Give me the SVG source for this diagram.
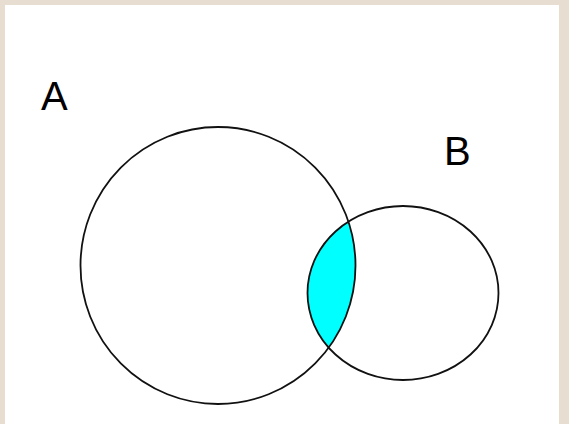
<svg xmlns="http://www.w3.org/2000/svg" width="569" height="424" viewBox="0 0 569 424">
  <style>
    .set { fill: none; stroke: #111; stroke-width: 1.8; }
    .label { font-family: "Liberation Sans", Arial, sans-serif; font-size: 40px; fill: #000; }
  </style>
  <defs>
    <clipPath id="clipA">
      <ellipse cx="218" cy="265.5" rx="137.5" ry="138.5"/>
    </clipPath>
  </defs>
  <rect x="0" y="0" width="569" height="424" fill="#e7ded1"/>
  <rect x="5" y="5" width="554" height="419" fill="#ffffff"/>
  <g id="intersection">
    <ellipse cx="403" cy="293" rx="95.5" ry="87" fill="#00ffff" clip-path="url(#clipA)"/>
  </g>
  <g id="setA">
    <ellipse class="set" cx="218" cy="265.5" rx="137.5" ry="138.5"/>
    <text class="label" x="41" y="110">A</text>
  </g>
  <g id="setB">
    <ellipse class="set" cx="403" cy="293" rx="95.5" ry="87"/>
    <text class="label" x="444" y="165">B</text>
  </g>
  <g id="connectors"/>
</svg>
